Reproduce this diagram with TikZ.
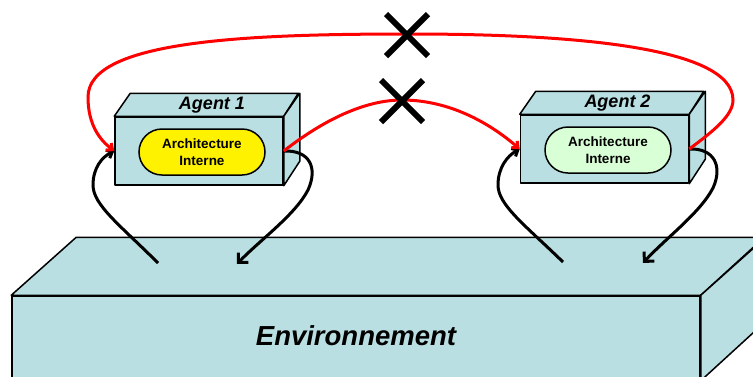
\documentclass[tikz,border=0pt]{standalone}
\usepackage{fontspec}
\setmainfont{Liberation Sans}
\usetikzlibrary{arrows.meta}
\definecolor{boxblue}{HTML}{B9DFE2}
\definecolor{archgreen}{HTML}{D9FFD6}
\begin{document}
\begin{tikzpicture}[x=1pt,y=-1pt,
  face/.style={draw=black,fill=boxblue,line width=1.5pt,line join=round},
  front/.style={face,rectangle,minimum width=168pt,minimum height=68pt,inner sep=0pt},
  arch/.style={draw=black,line width=1.5pt,rounded corners=23pt,minimum width=126pt,minimum height=46pt,inner sep=0pt,align=center,font=\fontsize{13.5}{16.5}\selectfont\bfseries},
  agentlabel/.style={font=\fontsize{18}{20}\selectfont\bfseries\itshape},
  redarrow/.style={red,line width=3pt,-{Straight Barb[length=5pt,width=9pt]}},
  blackarrow/.style={black,line width=3pt,-{Straight Barb[length=7pt,width=14pt]}},
  cross/.style={black,line width=6pt}
]
\useasboundingbox (0,0) rectangle (753,376);

% Environment
\node[face,rectangle,minimum width=688pt,minimum height=84pt,inner sep=0pt] (env) at (356,338) {};
\draw[face] (env.north west) -- ++(65,-58) -- ++(688,0) -- (env.north east) -- cycle;
\draw[face] (env.north east) -- ++(65,-58) -- ++(0,84) -- (env.south east) -- cycle;
\node[font=\fontsize{27.5}{30}\selectfont\bfseries\itshape] (envlabel) at (356,336) {Environnement};

% Agent 1
\node[front] (ag1) at (199,151) {};
\draw[face] (ag1.north west) -- ++(16,-23) -- ++(168,0) -- (ag1.north east) -- cycle;
\draw[face] (ag1.north east) -- ++(16,-23) -- ++(0,68) -- (ag1.south east) -- cycle;
\node[agentlabel] (lab1) at ([shift={(13,-11)}]ag1.north) {Agent 1};
\node[arch,fill=yellow] (arch1) at (202,152) {Architecture\\Interne};

% Agent 2
\node[front] (ag2) at (604.5,149) {};
\draw[face] (ag2.north west) -- ++(16,-23) -- ++(168,0) -- (ag2.north east) -- cycle;
\draw[face] (ag2.north east) -- ++(16,-23) -- ++(0,68) -- (ag2.south east) -- cycle;
\node[agentlabel] (lab2) at ([shift={(13,-11)}]ag2.north) {Agent 2};
\node[arch,fill=archgreen] (arch2) at (608,150) {Architecture\\Interne};

% free ends on the environment
\coordinate (e1out) at (158,263);
\coordinate (e1in) at (237,264);
\coordinate (e2out) at (563,262);
\coordinate (e2in) at (643,263);

% black perception / action arrows
\draw[blackarrow,-{Straight Barb[length=5pt,width=9pt]}] (e1out) .. controls (120,225) and (93,205) .. (93,185) .. controls (93,168) and (102,157) .. (ag1.west);
\draw[blackarrow] (ag1.east) .. controls (310,150) and (318,168) .. (308,190) .. controls (295,215) and (260,240) .. (e1in);
\draw[blackarrow,-{Straight Barb[length=5pt,width=9pt]}] (e2out) .. controls (525,225) and (498,205) .. (498,185) .. controls (498,168) and (507,156) .. (ag2.west);
\draw[blackarrow] (ag2.east) .. controls (714,148) and (723,166) .. (713,188) .. controls (700,213) and (666,238) .. (e2in);

% red communication arrows
\draw[redarrow] (ag2.east) .. controls (715,130) and (733,115) .. (733,100) .. controls (733,45) and (560,34) .. (410,34) .. controls (250,34) and (88,40) .. (88,97) .. controls (88,125) and (100,140) .. (ag1.west);
\draw[redarrow] (ag1.east) .. controls (330,115) and (370,100) .. (402,100) .. controls (440,100) and (480,115) .. (ag2.west);

% crosses
\draw[cross] (386,14) -- (428,56);
\draw[cross] (428,14) -- (386,56);
\draw[cross] (381,80) -- (423,122);
\draw[cross] (423,80) -- (381,122);
\end{tikzpicture}
\end{document}
